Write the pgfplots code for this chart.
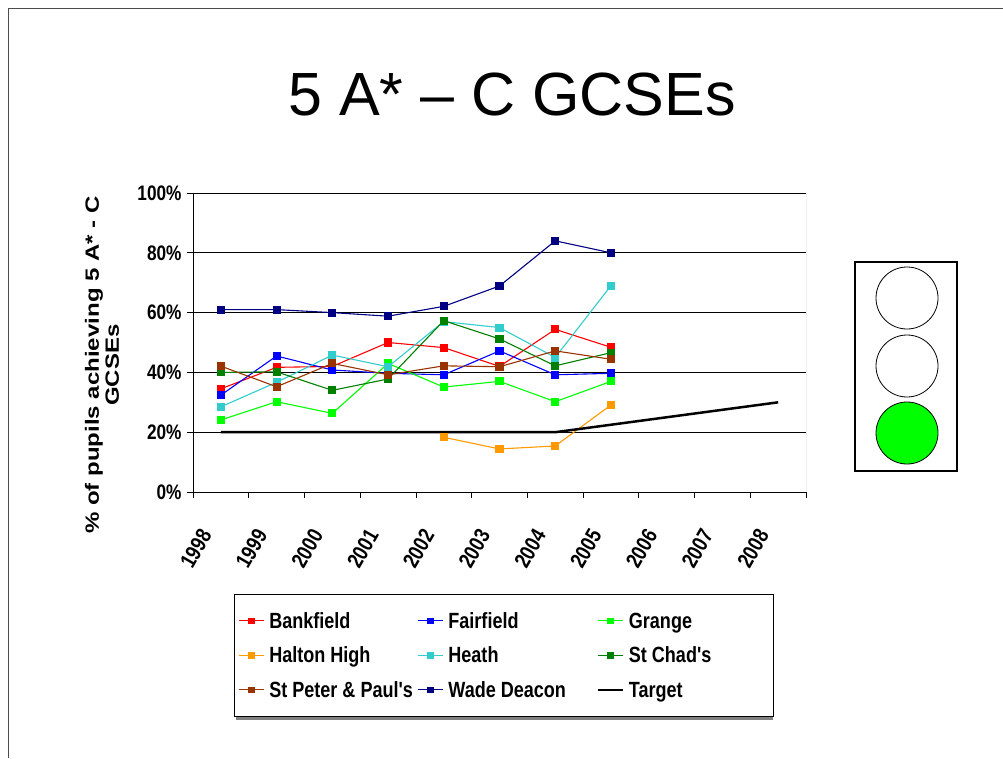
\documentclass[border=0pt]{standalone}
\usepackage{fontspec}
\setmainfont{Liberation Sans}
\newfontfamily\cond[FakeStretch=0.82]{Liberation Sans}
\usepackage{pgfplots}
\pgfplotsset{compat=1.18}
\definecolor{cBank}{RGB}{255,0,0}
\definecolor{cFair}{RGB}{0,0,255}
\definecolor{cGrange}{RGB}{0,255,0}
\definecolor{cHalton}{RGB}{255,153,0}
\definecolor{cHeath}{RGB}{51,204,204}
\definecolor{cChad}{RGB}{0,128,0}
\definecolor{cPeter}{RGB}{153,51,0}
\definecolor{cWade}{RGB}{0,0,128}
\newcommand{\tickfont}{\cond\bfseries\fontsize{21}{21}\selectfont}
\newcommand{\lgd}[2][149pt]{\makebox[#1][l]{\hspace{3pt}\rule[-5pt]{0pt}{21pt}#2}}
\begin{document}
\begin{tikzpicture}
\useasboundingbox (0,0) rectangle (1003pt,-758pt);
\draw[gray!60!black, line width=0.8pt] (1003pt,-8pt) -- (8pt,-8pt) -- (8pt,-758pt);
\node[anchor=base, font=\fontsize{61}{61}\selectfont, inner sep=0pt] at (512pt,-115pt) {5 A* – C GCSEs};
\node[xscale=0.8, rotate=90, align=center, font=\bfseries\fontsize{24}{25}\selectfont, inner sep=0pt] at (102pt,-365pt) {\% of pupils achieving 5 A* - C\\GCSEs};
\draw[gray, line width=2.5pt] (236pt,-718.5pt) -- (773pt,-718.5pt);
\begin{axis}[
  at={(193pt,-492pt)}, anchor=south west,
  scale only axis, width=613pt, height=299pt,
  xmin=-0.5, xmax=10.5, ymin=0, ymax=100,
  axis x line*=bottom, axis y line*=left,
  axis line style={black, line width=0.8pt},
  xtick={0,...,10},
  xticklabels={1998,1999,2000,2001,2002,2003,2004,2005,2006,2007,2008},
  major x tick style={draw=none},
  minor xtick={-0.5,0.5,...,10.5},
  tick align=outside, major tick length=6pt, minor tick length=6pt,
  ytick={0,20,40,60,80,100},
  yticklabels={0\%,20\%,40\%,60\%,80\%,100\%},
  ytick style={black, line width=0.8pt}, minor tick style={black, line width=0.8pt},
  ymajorgrids, grid style={black, line width=0.8pt},
  yticklabel style={font=\tickfont, xshift=-2pt},
  xticklabel style={font=\cond\bfseries\fontsize{22}{22}\selectfont, inner sep=0pt, xshift=-15pt, yshift=-33pt, rotate=60, anchor=east},
  every axis plot/.append style={line width=1.1pt, mark=square*, mark size=3.5pt},
  legend columns=3,
  legend image code/.code={\draw[mark repeat=2,mark phase=2, mark size=2.8pt] plot coordinates {(0pt,0pt) (12.5pt,0pt) (25pt,0pt)};},
  legend style={at={(0.0669,-0.341)}, anchor=north west, draw=black, fill=white,
    font=\cond\bfseries\fontsize{22}{22}\selectfont, inner xsep=4pt, inner ysep=16pt,
    row sep=13pt},
  legend cell align=left,
]
\draw[gray, line width=0.8pt] (rel axis cs:1,0) -- (rel axis cs:1,1);
\addplot[color=cBank, mark options={fill=cBank}] coordinates {(0,34.5)(1,41.7)(2,42)(3,50)(4,48.3)(5,42)(6,54.4)(7,48.4)};
\addlegendentry{\lgd{Bankfield}}
\addplot[color=cFair, mark options={fill=cFair}] coordinates {(0,32.4)(1,45.5)(2,40.8)(3,39.7)(4,39.2)(5,47.2)(6,39.2)(7,39.7)};
\addlegendentry{\lgd{Fairfield}}
\addplot[color=cGrange, mark options={fill=cGrange}] coordinates {(0,24.1)(1,30.2)(2,26.3)(3,43)(4,35.1)(5,37)(6,30.2)(7,37)};
\addlegendentry{\lgd[141pt]{Grange}}
\addplot[color=cHalton, mark options={fill=cHalton}] coordinates {(4,18.3)(5,14.4)(6,15.4)(7,29.1)};
\addlegendentry{\lgd{Halton High}}
\addplot[color=cHeath, mark options={fill=cHeath}] coordinates {(0,28.5)(1,36.7)(2,45.8)(3,41.9)(4,57)(5,55)(6,45)(7,69)};
\addlegendentry{\lgd{Heath}}
\addplot[color=cChad, mark options={fill=cChad}] coordinates {(0,40)(1,40.2)(2,34)(3,37.8)(4,57.3)(5,51.2)(6,42.2)(7,46.6)};
\addlegendentry{\lgd[141pt]{St Chad's}}
\addplot[color=cPeter, mark options={fill=cPeter}] coordinates {(0,42.1)(1,35.2)(2,43)(3,39.2)(4,42.2)(5,41.9)(6,47.2)(7,44.4)};
\addlegendentry{\lgd{St Peter \& Paul's}}
\addplot[color=cWade, mark options={fill=cWade}] coordinates {(0,61)(1,61)(2,60)(3,58.8)(4,62.1)(5,68.9)(6,84)(7,80)};
\addlegendentry{\lgd{Wade Deacon}}
\addplot[color=black, line width=2.5pt, mark=none] coordinates {(0,20)(1,20)(2,20)(3,20)(4,20)(5,20)(6,20)(7,22.5)(8,25)(9,27.5)(10,30)};
\addlegendentry{\lgd[141pt]{Target}}
\end{axis}
\draw[line width=1.5pt] (855pt,-262pt) rectangle (957pt,-471pt);
\draw[line width=0.8pt] (907pt,-298pt) circle (31pt);
\draw[line width=0.8pt] (907pt,-366pt) circle (31pt);
\draw[line width=0.8pt, fill=cGrange] (907pt,-433pt) circle (31pt);
\end{tikzpicture}
\end{document}
